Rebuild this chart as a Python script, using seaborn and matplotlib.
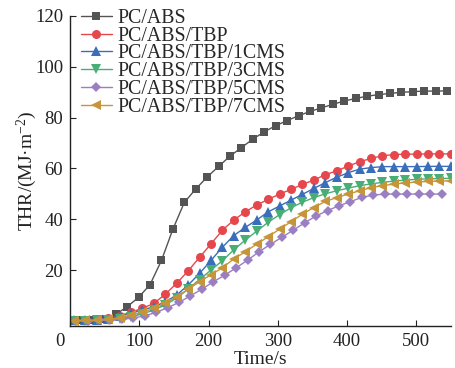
import matplotlib
matplotlib.use("Agg")
import matplotlib.pyplot as plt
from matplotlib.lines import Line2D
import pandas as pd
import seaborn as sns

# sample times (s)
t_a = [0, 16.5, 33, 49.5, 66, 82.5, 99, 115.5, 132, 148.5, 165, 181.5, 198, 214.5,
       231, 247.5, 264, 280.5, 297, 313.5, 330, 346.5, 363, 379.5, 396, 412.5, 429,
       445.5, 462, 478.5, 495, 511.5, 528, 544.5]
t_b = [5.5, 22, 38.5, 55, 71.5, 88, 104.5, 121, 137.5, 154, 170.5, 187, 203.5, 220,
       236.5, 253, 269.5, 286, 302.5, 319, 335.5, 352, 368.5, 385, 401.5, 418, 434.5,
       451, 467.5, 484, 500.5, 517, 533.5, 550]
t_c = [8.8, 25.3, 41.8, 58.3, 74.8, 91.3, 107.8, 124.3, 140.8, 157.3, 173.8, 190.3,
       206.8, 223.3, 239.8, 256.3, 272.8, 289.3, 305.8, 322.3, 338.8, 355.3, 371.8,
       388.3, 404.8, 421.3, 437.8, 454.3, 470.8, 487.3, 503.8, 520.3, 536.8]

thr_pcabs = [0.3, 0.3, 0.4, 0.6, 2.6, 5.6, 9.3, 14.3, 23.8, 36.1, 46.6, 51.9, 56.6, 60.8,
             64.8, 68.2, 71.5, 74.4, 76.8, 78.8, 80.7, 82.4, 83.8, 85.2, 86.5, 87.5, 88.4,
             89.0, 89.5, 89.9, 90.2, 90.4, 90.4, 90.5]
thr_tbp = [0.2, 0.3, 0.5, 1.0, 2.0, 3.4, 5.0, 6.9, 10.5, 14.8, 19.7, 25.0, 30.3, 35.7,
           39.7, 42.9, 45.6, 47.8, 49.9, 51.7, 53.7, 55.4, 57.5, 59.0, 60.9, 62.6, 63.9,
           65.0, 65.4, 65.6, 65.6, 65.7, 65.7, 65.7]
thr_1cms = [0.2, 0.3, 0.5, 0.9, 1.8, 3.0, 4.3, 5.6, 7.5, 10.2, 14.1, 18.7, 23.8, 29.0,
            33.6, 36.8, 39.7, 42.9, 45.2, 47.5, 49.8, 52.1, 54.4, 56.5, 58.3, 59.7, 60.3,
            60.7, 60.7, 60.7, 60.7, 60.8, 60.8, 60.8]
thr_3cms = [0.1, 0.1, 0.2, 0.4, 0.8, 1.6, 2.8, 4.3, 6.3, 9.0, 12.5, 16.3, 20.0, 23.7,
            28.0, 31.8, 35.3, 38.8, 41.8, 44.5, 46.7, 48.5, 50.0, 51.2, 52.2, 53.2, 53.9,
            54.5, 55.0, 55.4, 55.7, 55.9, 56.0, 56.1]
thr_5cms = [0.1, 0.1, 0.2, 0.3, 0.6, 1.2, 2.0, 3.4, 5.2, 7.3, 9.9, 12.5, 15.4, 18.0,
            20.9, 23.9, 27.2, 30.1, 32.9, 35.7, 38.6, 41.3, 43.4, 45.3, 46.9, 48.6, 49.5,
            49.9, 49.9, 49.9, 49.9, 49.9, 49.9]
thr_7cms = [0.1, 0.2, 0.3, 0.6, 1.2, 2.2, 3.4, 5.0, 6.9, 9.5, 12.5, 15.4, 18.2, 20.9,
            24.4, 27.2, 30.2, 33.1, 36.1, 39.0, 42.0, 44.6, 47.0, 48.5, 49.9, 51.2, 52.4,
            53.2, 53.8, 54.3, 54.6, 54.9, 55.0, 55.1]

names = ["PC/ABS", "PC/ABS/TBP", "PC/ABS/TBP/1CMS", "PC/ABS/TBP/3CMS",
         "PC/ABS/TBP/5CMS", "PC/ABS/TBP/7CMS"]
times = [t_a, t_b, t_b, t_b, t_c, t_b]
values = [thr_pcabs, thr_tbp, thr_1cms, thr_3cms, thr_5cms, thr_7cms]
colors = ["#545454", "#E6474D", "#3A6EBA", "#49AE76", "#9A7FC2", "#C79539"]
marker_list = ["s", "o", "^", "v", "D", "<"]
marker_sizes = [6, 6.5, 6.8, 6.8, 5, 6.8]

x_ticks = [0, 100, 200, 300, 400, 500]
y_ticks = [20, 40, 60, 80, 100, 120]

df = pd.concat([pd.DataFrame({"Time": t, "THR": v, "Sample": n})
                for n, t, v in zip(names, times, values)], ignore_index=True)

sns.set_style("ticks")
plt.rcParams["font.family"] = ["Liberation Serif", "DejaVu Serif"]
plt.rcParams["mathtext.fontset"] = "custom"
plt.rcParams["mathtext.rm"] = "Liberation Serif"
plt.rcParams["mathtext.it"] = "Liberation Serif:italic"

TXT = "#222222"
fig = plt.figure(figsize=(4.55, 3.68), dpi=100)
ax = fig.add_axes([0.154, 0.114, 0.837, 0.843])

sns.lineplot(data=df, x="Time", y="THR", hue="Sample", style="Sample",
             hue_order=names, style_order=names,
             palette=dict(zip(names, colors)), markers=dict(zip(names, marker_list)),
             dashes=False, linewidth=1.0, markersize=6, markeredgewidth=0,
             estimator=None, sort=False, legend=False, ax=ax)

for line in ax.lines:
    m = line.get_marker()
    if m in marker_list:
        line.set_markersize(marker_sizes[marker_list.index(m)])

ax.set_xlim(0, 550)
ax.set_ylim(-2, 120)
ax.set_xticks(x_ticks)
ax.set_xticklabels([""] + [str(v) for v in x_ticks[1:]])
ax.set_yticks(y_ticks)
ax.annotate("0", xy=(0, 0), xycoords=("data", "axes fraction"),
            xytext=(-7, -5), textcoords="offset points", ha="center", va="top",
            fontsize=13.5, color=TXT)

ax.tick_params(direction="in", length=4, width=0.8, labelsize=13.5, pad=5,
               colors=TXT)
for s in ["top", "right"]:
    ax.spines[s].set_visible(False)
for s in ["left", "bottom"]:
    ax.spines[s].set_color(TXT)
    ax.spines[s].set_linewidth(1.0)

ax.set_xlabel("Time/s", fontsize=14, labelpad=0.5, color=TXT)
ax.set_ylabel("THR/(MJ·m$^{-2}$)", fontsize=14, labelpad=-3, color=TXT)

handles = [Line2D([], [], color=c, marker=m, markersize=s, markeredgewidth=0, lw=1.0)
           for c, m, s in zip(colors, marker_list, marker_sizes)]
ax.legend(handles, names, loc="upper left", bbox_to_anchor=(0.028, 1.022),
          frameon=False, fontsize=14.3, handlelength=1.56, handletextpad=0.29,
          labelspacing=-0.065, borderpad=0, borderaxespad=0)

fig.savefig("out.png", dpi=100)
